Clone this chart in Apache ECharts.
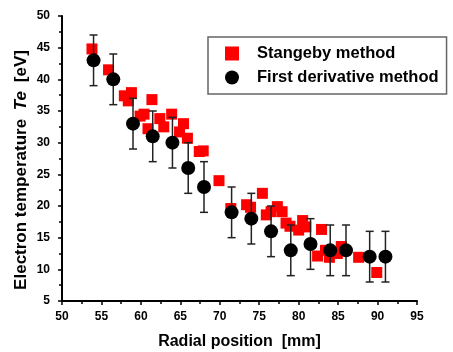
<!DOCTYPE html>
<html><head><meta charset="utf-8">
<script src="https://cdn.jsdelivr.net/npm/echarts@6/dist/echarts.min.js"></script>
<style>html,body{margin:0;padding:0;background:#fff}#c{width:453px;height:352px}</style>
</head><body><div id="c"></div>
<script>
// Stangeby method (red squares)
const stangebyX = [53.8,55.9,57.9,58.8,58.4,61.4,59.9,60.4,60.9,62.4,63.9,62.9,65.4,64.9,65.9,67.4,67.9,69.9,71.4,73.4,73.9,75.4,75.9,76.5,77.3,77.9,78.4,78.9,80.0,80.5,80.9,82.9,82.4,83.4,83.9,85.4,84.9,87.6,89.9];
const stangebyY = [44.8,41.5,37.4,37.9,36.6,36.8,34.2,34.5,32.2,33.8,34.5,32.5,33.0,31.7,30.7,28.6,28.7,24.0,19.6,20.2,19.8,22.0,18.6,19.1,19.9,19.1,17.3,16.8,16.2,17.7,16.7,16.3,12.1,13.0,11.9,13.6,12.5,11.9,9.5];
// First derivative method (black circles) with error bars
const derivX = [54,56.5,59,61.5,64,66,68,71.5,74,76.5,79,81.5,84,86,89,91];
const derivY = [43,40,33,31,30,26,23,19,18,16,13,14,13,13,12,12];
const derivErr = [4,4,4,4,4,4,4,4,4,4,4,4,4,4,4,4];
const xTicks = [50,55,60,65,70,75,80,85,90,95];
const yTicks = [5,10,15,20,25,30,35,40,45,50];

const font = 'Arial, "Liberation Sans", sans-serif';
const chart = echarts.init(document.getElementById('c'), null, {renderer:'canvas'});
const redData = stangebyX.map((x,i)=>[x, stangebyY[i]]);
const blackData = derivX.map((x,i)=>[x, derivY[i]]);
const errData = derivX.map((x,i)=>[x, derivY[i]-derivErr[i], derivY[i]+derivErr[i]]);

chart.setOption({
  animation:false,
  grid:{left:62, right:36, top:16, bottom:51, containLabel:false, outerBoundsMode:'none'},
  legend:{
    orient:'vertical', left:208, top:37,
    borderColor:'#666', borderWidth:1.5, borderRadius:0,
    padding:[8,8,8,17], itemGap:7, itemWidth:14, itemHeight:14,
    textStyle:{fontFamily:font, fontWeight:'bold', fontSize:16.5, color:'#000', padding:[0,0,0,13]},
    data:[{name:'Stangeby method', icon:'rect'},{name:'First derivative method', icon:'circle'}]
  },
  xAxis:{
    type:'value', min:50, max:95, interval:5,
    name:'Radial position  [mm]', nameLocation:'middle', nameGap:33,
    nameTextStyle:{fontFamily:font, fontWeight:'bold', fontSize:16, color:'#000'},
    axisLine:{show:true, lineStyle:{color:'#000', width:2}},
    axisTick:{show:true, inside:false, length:4, lineStyle:{color:'#000', width:1.5}},
    minorTick:{show:true, splitNumber:2, length:3, lineStyle:{color:'#000', width:1.5}},
    axisLabel:{fontFamily:font, fontWeight:'bold', fontSize:12, color:'#000', margin:10,
      formatter:v=>xTicks.includes(v)?String(v):''},
    splitLine:{show:false}
  },
  yAxis:{
    type:'value', min:5, max:50, interval:5,
    name:'{a|Electron temperature }{b|Te}{a| [eV]}', nameLocation:'middle', nameGap:32,
    nameMoveOverlap:false,
    nameTextStyle:{fontFamily:font, fontWeight:'bold', fontSize:17, color:'#000', padding:[0,23,0,0],
      rich:{a:{fontFamily:font, fontWeight:'bold', fontSize:17, color:'#000', padding:[0,4,0,4]},
            b:{fontFamily:font, fontWeight:'bold', fontStyle:'italic', fontSize:17, color:'#000'}}},
    axisLine:{show:true, lineStyle:{color:'#000', width:2}},
    axisTick:{show:true, inside:false, length:4, lineStyle:{color:'#000', width:1.5}},
    minorTick:{show:true, splitNumber:2, length:3, lineStyle:{color:'#000', width:1.5}},
    axisLabel:{fontFamily:font, fontWeight:'bold', fontSize:12, color:'#000', margin:12,
      formatter:v=>yTicks.includes(v)?String(v):''},
    splitLine:{show:false}
  },
  series:[
    {name:'Stangeby method', type:'scatter', symbol:'rect', symbolSize:11,
     itemStyle:{color:'#ff0000', opacity:1}, data:redData, z:2},
    {name:'errbars', type:'custom', z:3, data:errData,
     renderItem:function(params, api){
       const x = api.value(0);
       const lo = api.coord([x, api.value(1)]);
       const hi = api.coord([x, api.value(2)]);
       const w = 4;
       const st = {stroke:'#222', lineWidth:1.5};
       return {type:'group', children:[
         {type:'line', shape:{x1:lo[0],y1:lo[1],x2:hi[0],y2:hi[1]}, style:st},
         {type:'line', shape:{x1:lo[0]-w,y1:lo[1],x2:lo[0]+w,y2:lo[1]}, style:st},
         {type:'line', shape:{x1:hi[0]-w,y1:hi[1],x2:hi[0]+w,y2:hi[1]}, style:st}
       ]};
     }},
    {name:'First derivative method', type:'scatter', symbol:'circle', symbolSize:14,
     itemStyle:{color:'#000', opacity:1}, data:blackData, z:4}
  ]
});
</script></body></html>
